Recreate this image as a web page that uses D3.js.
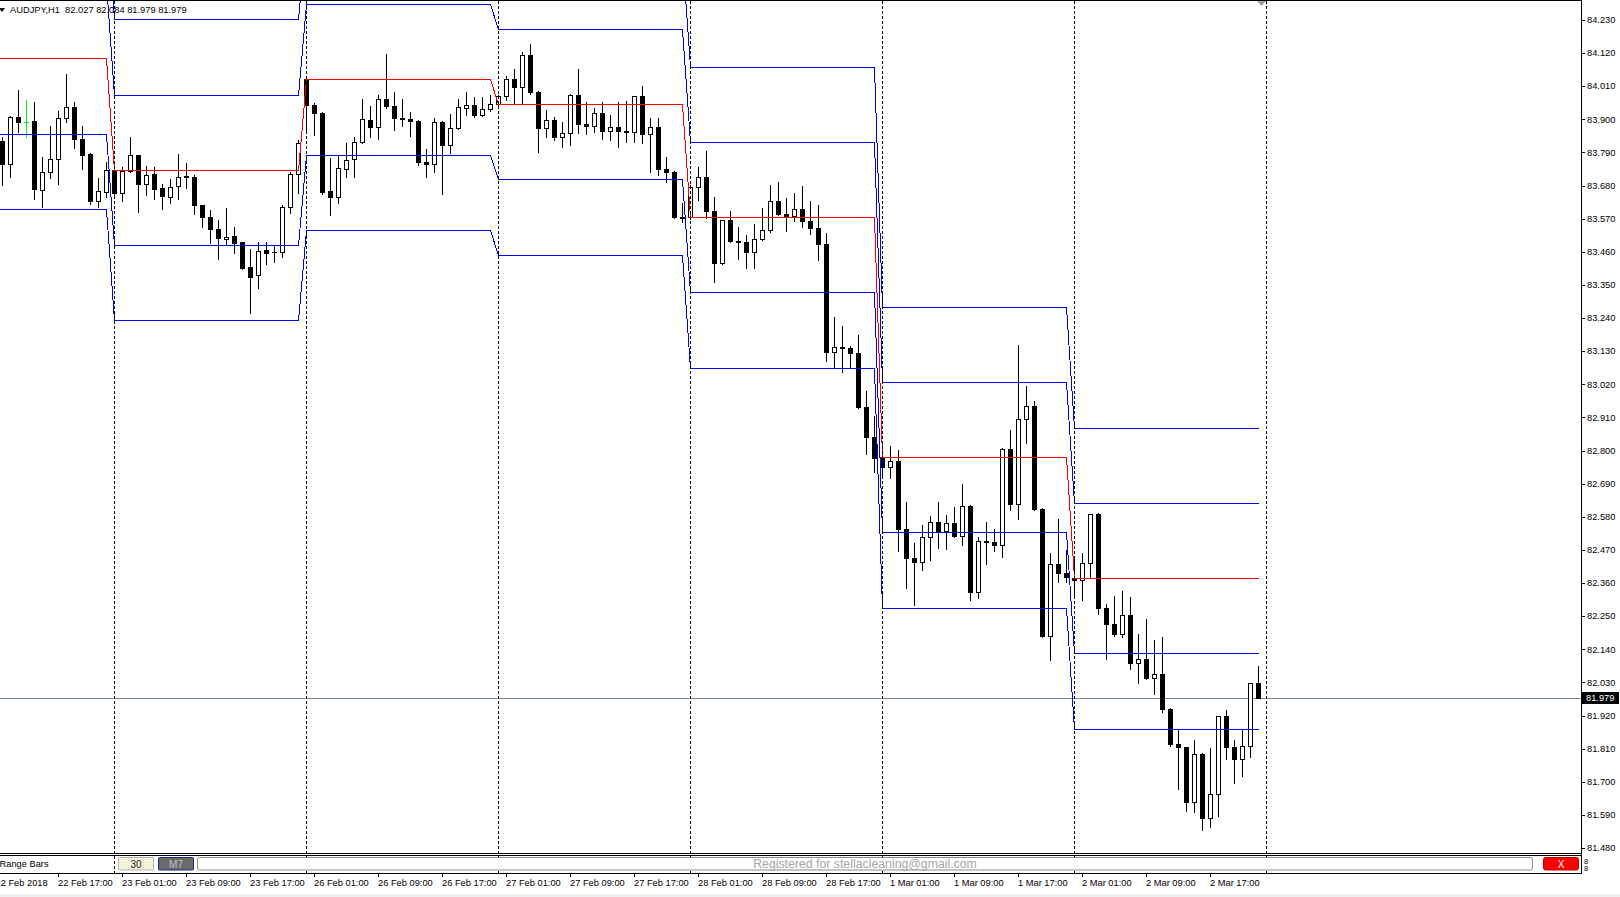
<!DOCTYPE html>
<html><head><meta charset="utf-8">
<script src="https://cdn.jsdelivr.net/npm/d3@7"></script>
<style>
html,body{margin:0;padding:0;background:#fff;overflow:hidden;}
svg{display:block;font-family:"Liberation Sans",Arial,sans-serif;}
</style></head><body>
<svg id="c" width="1620" height="897"></svg>
<script>
// ---------------- DATA ----------------
const symbolTitle = "AUDJPY,H1";
const lastOHLC = [82.027, 82.084, 81.979, 81.979];
const bidPrice = 81.979;
// hourly bars from 22 Feb 2018 10:00 to 2 Mar 2018 23:00
const opens = [83.828,83.752,83.908,83.891,83.894,83.665,83.725,83.768,83.904,83.941,
83.834,83.785,83.629,83.659,83.732,83.655,83.729,83.781,83.685,83.718,
83.672,83.642,83.678,83.712,83.708,83.615,83.576,83.536,83.502,83.512,
83.492,83.409,83.383,83.466,83.459,83.459,83.609,83.718,84.033,83.947,
83.921,83.662,83.642,83.735,83.768,83.825,83.898,83.875,83.967,83.944,
83.906,83.901,83.894,83.760,83.752,83.891,83.815,83.871,83.939,83.947,
83.914,83.934,83.951,83.977,84.034,84.007,84.114,83.991,83.871,83.898,
83.841,83.855,83.981,83.885,83.878,83.921,83.861,83.875,83.861,83.857,
83.977,83.851,83.875,83.735,83.725,83.576,83.575,83.675,83.708,83.596,
83.423,83.566,83.496,83.494,83.459,83.502,83.532,83.629,83.586,83.579,
83.602,83.562,83.539,83.486,83.127,83.144,83.141,83.124,82.945,82.845,
82.778,82.745,82.765,82.539,82.443,82.430,82.513,82.563,82.533,82.559,
82.516,82.616,82.330,82.500,82.497,82.486,82.805,82.623,82.905,82.948,
82.606,82.184,82.423,82.393,82.376,82.371,82.427,82.589,82.277,82.224,
82.191,82.254,82.095,82.108,82.045,82.058,81.942,81.826,81.815,81.633,
81.792,81.580,81.659,81.918,81.815,81.776,81.819,82.027];
const highs = [83.841,83.911,83.997,83.964,83.957,83.775,83.878,83.927,84.050,83.957,
83.878,83.787,83.705,83.758,83.734,83.742,83.841,83.782,83.745,83.742,
83.685,83.702,83.785,83.755,83.715,83.616,83.599,83.566,83.605,83.542,
83.493,83.469,83.492,83.492,83.479,83.615,83.725,83.831,84.035,83.955,
83.924,83.771,83.781,83.821,83.841,83.967,83.944,83.981,84.117,83.991,
83.967,83.924,83.898,83.801,83.904,83.893,83.918,83.967,83.991,83.974,
83.974,83.981,83.981,84.044,84.067,84.124,84.150,83.994,83.931,83.908,
83.891,83.983,84.067,83.957,83.938,83.957,83.914,83.957,83.961,83.978,
84.011,83.904,83.904,83.775,83.727,83.622,83.682,83.742,83.795,83.642,
83.567,83.596,83.542,83.516,83.552,83.605,83.682,83.692,83.639,83.655,
83.678,83.629,83.615,83.522,83.244,83.214,83.147,83.184,82.998,82.915,
82.780,82.815,82.802,82.629,82.493,82.553,82.583,82.629,82.586,82.612,
82.689,82.618,82.513,82.563,82.540,82.807,82.868,83.151,83.014,82.965,
82.610,82.460,82.573,82.470,82.443,82.460,82.590,82.593,82.290,82.317,
82.334,82.314,82.191,82.241,82.171,82.181,81.944,81.872,81.817,81.839,
81.794,81.812,81.920,81.938,81.839,81.872,82.027,82.084];
const lows = [83.682,83.708,83.858,83.841,83.635,83.609,83.705,83.685,83.891,83.805,
83.735,83.619,83.609,83.642,83.642,83.629,83.725,83.592,83.649,83.635,
83.602,83.622,83.635,83.672,83.586,83.542,83.489,83.436,83.486,83.456,
83.404,83.257,83.340,83.420,83.426,83.443,83.589,83.655,83.864,83.848,
83.652,83.582,83.622,83.708,83.708,83.821,83.841,83.834,83.937,83.864,
83.878,83.845,83.748,83.708,83.725,83.652,83.788,83.869,83.914,83.908,
83.911,83.929,83.944,83.964,83.951,83.951,83.984,83.792,83.841,83.831,
83.808,83.815,83.855,83.851,83.858,83.835,83.831,83.808,83.825,83.825,
83.821,83.725,83.715,83.692,83.572,83.559,83.570,83.632,83.572,83.360,
83.420,83.494,83.436,83.406,83.406,83.500,83.526,83.582,83.529,83.562,
83.542,83.519,83.433,83.097,83.078,83.061,83.074,82.941,82.789,82.729,
82.719,82.709,82.467,82.344,82.287,82.403,82.437,82.476,82.473,82.513,
82.486,82.304,82.310,82.423,82.467,82.447,82.603,82.573,82.825,82.603,
82.181,82.105,82.363,82.363,82.310,82.304,82.377,82.257,82.108,82.184,
82.181,82.075,82.028,82.041,81.992,81.932,81.819,81.676,81.603,81.600,
81.540,81.550,81.586,81.776,81.696,81.719,81.782,81.979];
const closes = [83.752,83.908,83.891,83.891,83.668,83.725,83.768,83.904,83.941,83.834,
83.781,83.629,83.662,83.732,83.655,83.729,83.781,83.685,83.715,83.668,
83.645,83.675,83.708,83.707,83.615,83.576,83.536,83.506,83.509,83.489,
83.406,83.376,83.463,83.456,83.458,83.609,83.718,83.821,83.947,83.921,
83.659,83.642,83.738,83.765,83.825,83.901,83.875,83.967,83.944,83.904,
83.901,83.894,83.758,83.752,83.891,83.815,83.871,83.941,83.947,83.914,
83.934,83.951,83.977,84.034,84.007,84.114,83.991,83.871,83.898,83.841,
83.855,83.981,83.885,83.878,83.921,83.861,83.875,83.861,83.857,83.977,
83.851,83.875,83.735,83.725,83.576,83.573,83.675,83.708,83.596,83.423,
83.566,83.496,83.494,83.459,83.502,83.532,83.629,83.586,83.579,83.602,
83.562,83.539,83.486,83.127,83.144,83.141,83.124,82.945,82.845,82.775,
82.745,82.765,82.539,82.443,82.430,82.513,82.563,82.533,82.559,82.516,
82.616,82.330,82.500,82.497,82.486,82.805,82.623,82.905,82.948,82.606,
82.184,82.423,82.393,82.380,82.371,82.427,82.589,82.277,82.224,82.191,
82.254,82.095,82.108,82.045,82.058,81.942,81.826,81.815,81.633,81.792,
81.580,81.659,81.918,81.815,81.776,81.819,82.027,81.979];

// trading days: first bar index of each day and its open (mid line)
const dayNames = ["22 Feb","23 Feb","26 Feb","27 Feb","28 Feb","1 Mar","2 Mar"];
const dayFirstBar = [0,14,38,62,86,110,134];
const dayOpens = [84.103,83.732,84.033,83.951,83.575,82.778,82.376];
const separatorBars = [14,38,62,86,110,134,158];
// level offsets around the daily open
const levelOffsets = [0.50,0.25,0,-0.25,-0.50];

// axis labels
const priceTicks = [84.230,84.120,84.010,83.900,83.790,83.680,83.570,83.460,83.350,83.240,
83.130,83.020,82.910,82.800,82.690,82.580,82.470,82.360,82.250,82.140,82.030,81.920,
81.810,81.700,81.590,81.480];
const firstDateLabel = "22 Feb 2018";
const timeLabelBars = [7,15,23,31,39,47,55,63,71,79,87,95,103,111,119,127,135,143,151];
const timeLabels = ["22 Feb 17:00","23 Feb 01:00","23 Feb 09:00","23 Feb 17:00",
"26 Feb 01:00","26 Feb 09:00","26 Feb 17:00","27 Feb 01:00","27 Feb 09:00","27 Feb 17:00",
"28 Feb 01:00","28 Feb 09:00","28 Feb 17:00","1 Mar 01:00","1 Mar 09:00","1 Mar 17:00",
"2 Mar 01:00","2 Mar 09:00","2 Mar 17:00"];
const subLabel = "Range Bars";
const buttonLabels = ["30","M7"];
const registeredText = "Registered for stellacleaning@gmail.com";

// ---------------- DRAW ----------------
const svg = d3.select("#c");
const plotRight = 1581, plotBottom = 853, subTop = 855, subBottom = 873;
const x = d3.scaleLinear().domain([0, 157]).range([2, 1258]);
const y = d3.scaleLinear().domain([81.48, 84.23]).range([848, 20]);
const FS = "9.3px";

svg.append("rect").attr("width",1620).attr("height",897).attr("fill","#fff");
svg.append("rect").attr("x",0).attr("y",894).attr("width",1620).attr("height",3).attr("fill","#efefef");

const defs = svg.append("defs");
defs.append("clipPath").attr("id","plotclip").append("rect")
  .attr("x",0).attr("y",1).attr("width",plotRight).attr("height",plotBottom-1);

const plot = svg.append("g").attr("clip-path","url(#plotclip)");

// title
plot.append("path").attr("d","M-1,8 L5,8 L2,12 Z").attr("fill","#000");
plot.append("text").attr("x",10).attr("y",10).attr("dy","0.35em")
  .attr("font-size",FS).attr("fill","#000").attr("xml:space","preserve")
  .text(symbolTitle + "  " + lastOHLC.map(v=>v.toFixed(3)).join(" "));

// day separators
svg.append("g").selectAll("line").data(separatorBars).join("line")
  .attr("x1",d=>Math.round(x(d))+0.5).attr("x2",d=>Math.round(x(d))+0.5)
  .attr("y1",1).attr("y2",subBottom)
  .attr("stroke","#000").attr("stroke-width",1).attr("stroke-dasharray","3,2");

// bid line
plot.append("line").attr("x1",0).attr("x2",plotRight)
  .attr("y1",Math.round(y(bidPrice))+0.5).attr("y2",Math.round(y(bidPrice))+0.5)
  .attr("stroke","#778899").attr("stroke-width",1);

// candles
const bars = d3.range(opens.length).map(i=>({i,o:opens[i],h:highs[i],l:lows[i],c:closes[i]}));
const cg = plot.append("g").attr("shape-rendering","crispEdges");
bars.forEach(b=>{
  const xc = Math.round(x(b.i));
  const yH = Math.round(y(b.h)), yL = Math.round(y(b.l));
  const yO = Math.round(y(b.o)), yC = Math.round(y(b.c));
  const doji = b.o === b.c;
  const col = doji ? "#00ff00" : "#000";
  cg.append("rect").attr("x",xc).attr("y",yH).attr("width",1).attr("height",Math.max(1,yL-yH+1)).attr("fill",col);
  const top = Math.min(yO,yC), bot = Math.max(yO,yC);
  if (doji) {
    cg.append("rect").attr("x",xc-2).attr("y",yO).attr("width",5).attr("height",1).attr("fill",col);
  } else {
    cg.append("rect").attr("x",xc-2).attr("y",top).attr("width",5).attr("height",bot-top+1).attr("fill","#000");
    if (b.c > b.o && bot-top-1 > 0) {
      cg.append("rect").attr("x",xc-1).attr("y",top+1).attr("width",3).attr("height",bot-top-1).attr("fill","#fff");
    }
  }
});

// daily level lines
function dayOf(i){ let d=0; dayFirstBar.forEach((s,k)=>{ if(i>=s) d=k; }); return d; }
const lineIdx = d3.range(-1, opens.length);
const lg = plot.append("g").attr("fill","none").attr("shape-rendering","crispEdges");
levelOffsets.forEach(off=>{
  const pts = lineIdx.map(i=>({i, v: dayOpens[dayOf(Math.max(i,0))] + off}));
  lg.append("path").datum(pts)
    .attr("d", d3.line().x(d=>Math.round(x(d.i))+0.5).y(d=>Math.round(y(d.v))+0.5))
    .attr("stroke", off===0 ? "#ff0000" : "#0000ff").attr("stroke-width",1);
});

// chart shift marker
svg.append("path").attr("d","M1257,1 L1266,1 L1261.5,6 Z").attr("fill","#a0a0a0");

// frames
const fr = svg.append("g").attr("stroke","#000").attr("stroke-width",1).attr("shape-rendering","crispEdges");
fr.append("line").attr("x1",0).attr("x2",plotRight).attr("y1",0.5).attr("y2",0.5);
fr.append("line").attr("x1",0).attr("x2",plotRight).attr("y1",plotBottom+0.5).attr("y2",plotBottom+0.5);
fr.append("line").attr("x1",0).attr("x2",plotRight).attr("y1",subTop+0.5).attr("y2",subTop+0.5);
fr.append("line").attr("x1",0).attr("x2",plotRight).attr("y1",subBottom+0.5).attr("y2",subBottom+0.5);
fr.append("line").attr("x1",plotRight+0.5).attr("x2",plotRight+0.5).attr("y1",0).attr("y2",subBottom+1);

// price axis
const pa = svg.append("g");
pa.selectAll("line").data(priceTicks).join("line")
  .attr("x1",plotRight+1).attr("x2",plotRight+4)
  .attr("y1",d=>Math.round(y(d))+0.5).attr("y2",d=>Math.round(y(d))+0.5)
  .attr("stroke","#000").attr("shape-rendering","crispEdges");
pa.selectAll("text").data(priceTicks).join("text")
  .attr("x",plotRight+6).attr("y",d=>y(d)).attr("dy","0.35em")
  .attr("font-size",FS).attr("fill","#000").text(d=>d.toFixed(3));
// bid label
const by = Math.round(y(bidPrice));
pa.append("rect").attr("x",plotRight+1).attr("y",by-6).attr("width",37).attr("height",12).attr("fill","#000");
pa.append("text").attr("x",plotRight+5).attr("y",by).attr("dy","0.35em")
  .attr("font-size",FS).attr("fill","#fff").text(bidPrice.toFixed(3));

// time axis
const ta = svg.append("g");
ta.append("text").attr("x",x(0)-6.5).attr("y",883).attr("dy","0.35em")
  .attr("font-size",FS).attr("fill","#000").text(firstDateLabel);
ta.selectAll("line").data(timeLabelBars).join("line")
  .attr("x1",d=>Math.round(x(d))+0.5).attr("x2",d=>Math.round(x(d))+0.5)
  .attr("y1",subBottom+1).attr("y2",subBottom+4)
  .attr("stroke","#000").attr("shape-rendering","crispEdges");
ta.selectAll("text.t").data(timeLabelBars).join("text").attr("class","t")
  .attr("x",d=>x(d)+0).attr("y",883).attr("dy","0.35em")
  .attr("font-size",FS).attr("fill","#000").text((d,k)=>timeLabels[k]);

// sub window
const sw = svg.append("g");
sw.append("text").attr("x",-0.5).attr("y",864).attr("dy","0.35em")
  .attr("font-size",FS).attr("fill","#000").text(subLabel);
sw.append("rect").attr("x",118.5).attr("y",857.5).attr("width",35).attr("height",12.5)
  .attr("fill","#f5f3dc").attr("stroke","#b4b4a8").attr("rx",1);
sw.append("text").attr("x",136).attr("y",864).attr("dy","0.35em").attr("text-anchor","middle")
  .attr("font-size","10px").attr("fill","#222").text(buttonLabels[0]);
sw.append("rect").attr("x",158.5).attr("y",857.5).attr("width",35).attr("height",12.5)
  .attr("fill","#6b6b6b").attr("stroke","#1a2a86").attr("rx",1);
sw.append("text").attr("x",176).attr("y",864).attr("dy","0.35em").attr("text-anchor","middle")
  .attr("font-size","10px").attr("fill","#c4c4c4").text(buttonLabels[1]);
sw.append("rect").attr("x",197.5).attr("y",857.5).attr("width",1335).attr("height",12.5)
  .attr("fill","#fff").attr("stroke","#8c8c8c").attr("rx",2);
sw.append("text").attr("x",865).attr("y",864).attr("dy","0.35em").attr("text-anchor","middle")
  .attr("font-size","12.3px").attr("fill","#a6a6a6").text(registeredText);
sw.append("rect").attr("x",1543.5).attr("y",857.5).attr("width",35).attr("height",12.5)
  .attr("fill","#ff0000").attr("stroke","#c80000").attr("rx",2);
sw.append("text").attr("x",1561).attr("y",864).attr("dy","0.35em").attr("text-anchor","middle")
  .attr("font-size","10px").attr("fill","#fff").text("X");
sw.append("text").attr("x",1584).attr("y",861).attr("dy","0.35em").attr("font-size","7.5px").attr("fill","#000").text("8");
sw.append("text").attr("x",1584).attr("y",868).attr("dy","0.35em").attr("font-size","7.5px").attr("fill","#000").text("8");
</script>
</body></html>
